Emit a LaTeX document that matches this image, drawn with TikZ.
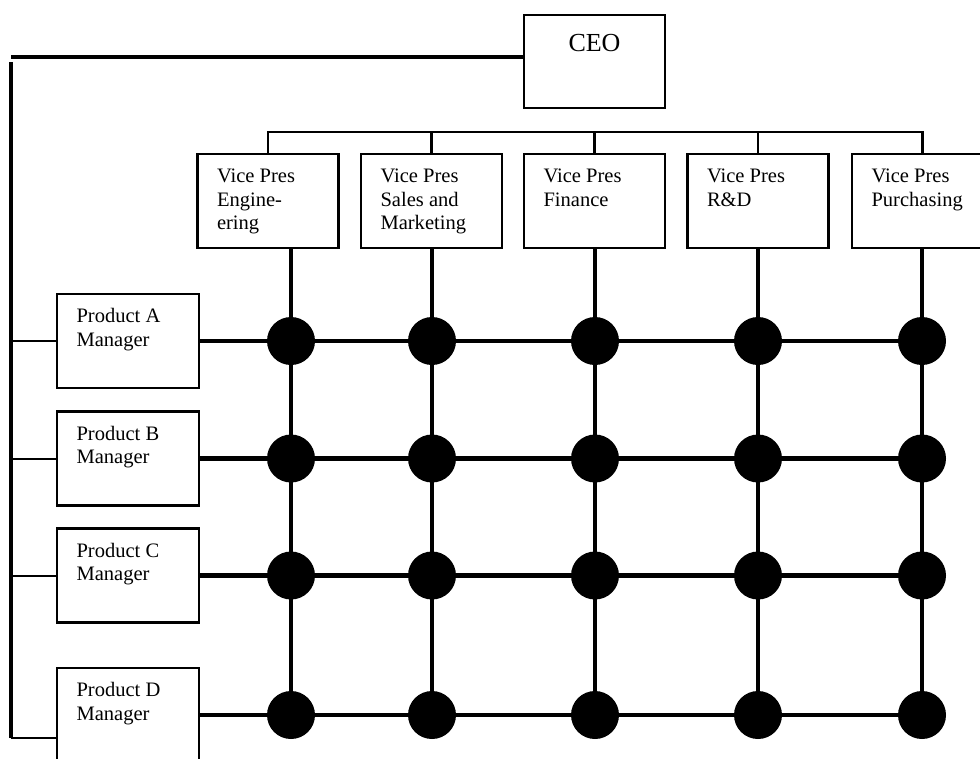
\documentclass[tikz,border=0pt]{standalone}
\usepackage{fontspec}
\setmainfont{Liberation Serif}
% stacked lines whose baseline is the first line's
\newcommand{\boxlines}[1]{\begin{tabular}[t]{@{}l@{}}#1\end{tabular}}
\begin{document}
\begin{tikzpicture}[x=0.75pt,y=-0.75pt,
  box/.style={draw, line width=1.9pt, rectangle, inner sep=0pt,
    minimum width=105.75pt, minimum height=70.5pt},
  lbl/.style={anchor=base west, inner sep=0pt,
    font=\fontsize{15.4}{17.6}\selectfont, xshift=15.4pt, yshift=-22.5pt},
  hub/.style={circle, fill=black, draw=none, minimum size=36pt, inner sep=0pt},
  heavy/.style={line width=3.3pt},
  light/.style={line width=1.5pt},
  bus/.style={line width=2.2pt}]
\useasboundingbox (0,0) rectangle (980,758);

% chief executive
\node[box, minimum height=69.75pt] (ceo) at (594.5,61.5) {};
\node[anchor=base, inner sep=0pt, font=\fontsize{19.5}{22}\selectfont]
  (ceotext) at (594.5,51) {CEO};

% vice presidents
\node[box] (vp1) at (268,201) {};
\node[box] (vp2) at (431.5,201) {};
\node[box] (vp3) at (594.5,201) {};
\node[box] (vp4) at (758,201) {};
\node[box] (vp5) at (922.5,201) {};
\node[lbl] (vp1t) at (vp1.north west) {\boxlines{Vice Pres\\Engine-\\ering}};
\node[lbl] (vp2t) at (vp2.north west) {\boxlines{Vice Pres\\Sales and\\Marketing}};
\node[lbl] (vp3t) at (vp3.north west) {\boxlines{Vice Pres\\Finance}};
\node[lbl] (vp4t) at (vp4.north west) {\boxlines{Vice Pres\\R\&D}};
\node[lbl] (vp5t) at (vp5.north west) {\boxlines{Vice Pres\\Purchasing}};

% product managers
\node[box, minimum width=106.5pt] (pa) at (128,341) {};
\node[box, minimum width=106.5pt] (pb) at (128,458.5) {};
\node[box, minimum width=106.5pt] (pc) at (128,575.5) {};
\node[box, minimum width=106.5pt] (pd) at (128,715) {};
\node[lbl] (pat) at (pa.north west) {\boxlines{Product A\\Manager}};
\node[lbl] (pbt) at (pb.north west) {\boxlines{Product B\\Manager}};
\node[lbl] (pct) at (pc.north west) {\boxlines{Product C\\Manager}};
\node[lbl] (pdt) at (pd.north west) {\boxlines{Product D\\Manager}};

% CEO link to the product line and the VP bus
\coordinate (topleft) at (11,57);
\coordinate (railtop) at (11,62);
\coordinate (railbot) at (11,738);
\coordinate (busy) at (0,132);
\draw[heavy] (ceo.west |- topleft) -- (topleft);
\draw[heavy] (railtop) -- (railbot);
\draw[light] (railbot) -- (pd.west |- railbot);
\draw[light] (pa.west) -- (pa.west -| railbot);
\draw[light] (pb.west) -- (pb.west -| railbot);
\draw[light] (pc.west) -- (pc.west -| railbot);

\draw[bus] (vp1.north) -- (vp1.north |- busy) -- (vp5.north |- busy) -- (vp5.north);
\draw[bus] (vp2.north) -- (vp2.north |- busy);
\draw[bus] (vp3.north) -- (vp3.north |- busy);
\draw[bus] (vp4.north) -- (vp4.north |- busy);

% matrix hubs
\foreach \r/\p in {1/pa,2/pb,3/pc,4/pd}{
  \foreach \c/\x in {1/291,2/432,3/595,4/758,5/922}{
    \coordinate (h\r\c) at (\x,0 |- \p.center);
  }
}
\foreach \c/\v in {1/vp1,2/vp2,3/vp3,4/vp4,5/vp5}{
  \draw[heavy] (\v.south -| h1\c) -- (h4\c);
}
\foreach \r/\p in {1/pa,2/pb,3/pc,4/pd}{
  \draw[heavy] (\p.east) -- (h\r5);
}
\foreach \r in {1,...,4}{
  \foreach \c in {1,...,5}{
    \node[hub] (n\r\c) at (h\r\c) {};
  }
}
\end{tikzpicture}
\end{document}
